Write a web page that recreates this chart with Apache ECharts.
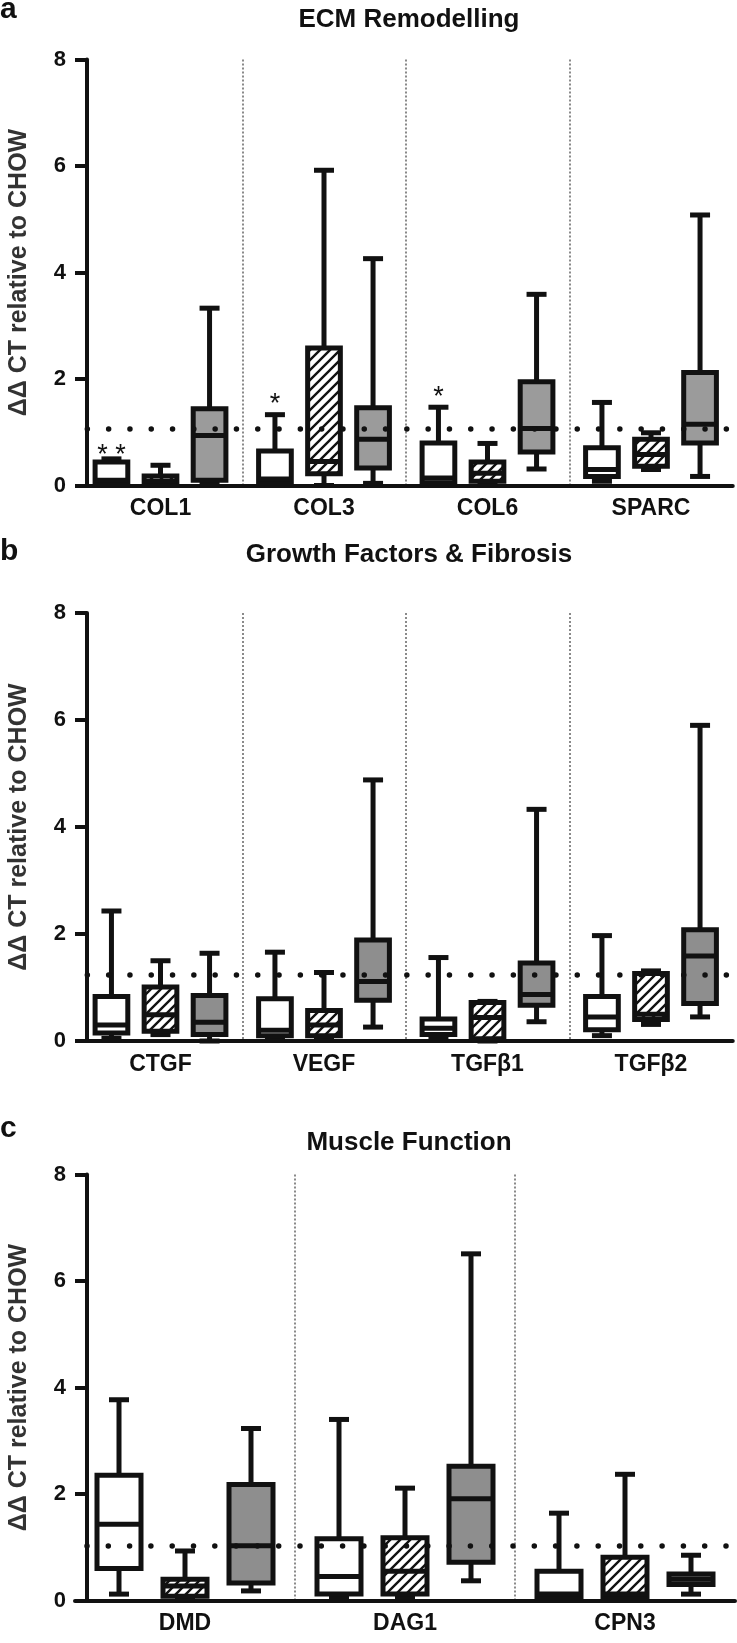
<!DOCTYPE html>
<html>
<head>
<meta charset="utf-8">
<script src="https://cdn.jsdelivr.net/npm/echarts@6/dist/echarts.min.js"></script>
<style>
html,body{margin:0;padding:0;background:#fff;}
#chart{width:737px;height:1643px;}
</style>
</head>
<body>
<div id="chart"></div>
<script>
// ---------------- DATA ----------------
const panelTitles = ['ECM Remodelling', 'Growth Factors & Fibrosis', 'Muscle Function'];
const panelLetters = ['a', 'b', 'c'];
const yAxisName = 'ΔΔ CT relative to CHOW';
const yMin = 0, yMax = 8, yStep = 2;

const categoriesA = ['COL1', 'COL3', 'COL6', 'SPARC'];
const categoriesB = ['CTGF', 'VEGF', 'TGFβ1', 'TGFβ2'];
const categoriesC = ['DMD', 'DAG1', 'CPN3'];

// reference (dotted) line value per panel
const refLineA = 1.07;
const refLineB = 1.23;
const refLineC = 1.03;

// box values: [min, Q1, median, Q3, max]
const whiteA = [[0, 0.03, 0.10, 0.44, 0.50], [0, 0.04, 0.12, 0.65, 1.33], [0, 0.05, 0.14, 0.80, 1.47], [0.08, 0.17, 0.30, 0.71, 1.56]];
const hatchA = [[0, 0.02, 0.08, 0.18, 0.38], [0, 0.22, 0.45, 2.58, 5.92], [0.03, 0.08, 0.23, 0.44, 0.79], [0.30, 0.36, 0.58, 0.87, 0.99]];
const grayA  = [[0.02, 0.10, 0.94, 1.44, 3.33], [0.04, 0.33, 0.87, 1.46, 4.26], [0.31, 0.63, 1.07, 1.95, 3.59], [0.17, 0.80, 1.15, 2.12, 5.08]];

const whiteB = [[0.05, 0.15, 0.30, 0.83, 2.43], [0.05, 0.10, 0.20, 0.79, 1.66], [0.06, 0.12, 0.24, 0.41, 1.56], [0.10, 0.21, 0.45, 0.83, 1.97]];
const hatchB = [[0.12, 0.18, 0.49, 1.01, 1.50], [0.05, 0.10, 0.30, 0.57, 1.28], [0, 0.04, 0.44, 0.72, 0.74], [0.31, 0.40, 0.50, 1.26, 1.31]];
const grayB  = [[0, 0.12, 0.35, 0.85, 1.64], [0.26, 0.76, 1.11, 1.89, 4.88], [0.36, 0.67, 0.87, 1.46, 4.33], [0.45, 0.70, 1.59, 2.08, 5.90]];

const whiteC = [[0.12, 0.60, 1.43, 2.35, 3.77], [0.05, 0.12, 0.45, 1.16, 3.40], [0, 0.05, 0.12, 0.55, 1.64]];
const hatchC = [[0.02, 0.08, 0.27, 0.40, 0.93], [0.07, 0.12, 0.55, 1.18, 2.11], [0, 0.05, 0.12, 0.81, 2.37]];
const grayC  = [[0.18, 0.33, 1.03, 2.18, 3.23], [0.37, 0.72, 1.91, 2.52, 6.51], [0.12, 0.30, 0.40, 0.50, 0.85]];

// significance marks (panel a, white group)
const starCategoriesA = ['COL1', 'COL3', 'COL6'];
const starValuesA = [0.67, 1.64, 1.76];
const starTextsA = ['* *', '*', '*'];

// ---------------- STYLE / LAYOUT ----------------
const FONT = "'Liberation Sans', Arial, Helvetica, sans-serif";
const INK = '#111';

// hatch pattern
const hatch = document.createElement('canvas');
hatch.width = 10; hatch.height = 10;
(function () {
  const c = hatch.getContext('2d');
  c.fillStyle = '#fff'; c.fillRect(0, 0, 10, 10);
  c.strokeStyle = '#111'; c.lineWidth = 2.4;
  c.beginPath();
  c.moveTo(-2, 12); c.lineTo(12, -2);
  c.moveTo(-7, 7); c.lineTo(7, -7);
  c.moveTo(3, 17); c.lineTo(17, 3);
  c.stroke();
})();
const hatchFill = { image: hatch, repeat: 'repeat' };

const panels = [
  { cats: categoriesA, ref: refLineA, groups: [whiteA, hatchA, grayA], gray: '#9b9b9b',
    grid: { left: 78.75, width: 654, top: 59.5, height: 426 }, yOffset: -8.25, dashOffset: 12.7,
    titleTop: 7, letterTop: -5 },
  { cats: categoriesB, ref: refLineB, groups: [whiteB, hatchB, grayB], gray: '#8e8e8e',
    grid: { left: 78.75, width: 654, top: 613, height: 428 }, yOffset: -8.25, dashOffset: 12.7,
    titleTop: 542, letterTop: 537 },
  { cats: categoriesC, ref: refLineC, groups: [whiteC, hatchC, grayC], gray: '#8e8e8e',
    grid: { left: 75, width: 660, top: 1174.5, height: 426 }, yOffset: -12, dashOffset: 9.3,
    titleTop: 1130, letterTop: 1114 }
];

function boxRenderer(groupIdx, fill) {
  return function (params, api) {
    const cat = api.value(0);
    const bw = api.size([1, 0])[0];
    const cx = api.coord([cat, 0])[0] + (groupIdx - 1) * 0.3 * bw;
    const half = 0.1 * bw;
    const capHalf = 10;
    const y = (k) => api.coord([cat, api.value(k)])[1];
    const yMn = y(1), yQ1 = y(2), yMd = y(3), yQ3 = y(4), yMx = y(5);
    const ls = { stroke: INK, lineWidth: 5 };
    return {
      type: 'group',
      children: [
        { type: 'line', shape: { x1: cx, y1: yMx, x2: cx, y2: yQ3 }, style: ls },
        { type: 'line', shape: { x1: cx, y1: yQ1, x2: cx, y2: yMn }, style: ls },
        { type: 'line', shape: { x1: cx - capHalf, y1: yMx, x2: cx + capHalf, y2: yMx }, style: ls },
        { type: 'line', shape: { x1: cx - capHalf, y1: yMn, x2: cx + capHalf, y2: yMn }, style: ls },
        { type: 'rect', shape: { x: cx - half, y: yQ3, width: 2 * half, height: yQ1 - yQ3 },
          style: { fill: fill, stroke: INK, lineWidth: 5 } },
        { type: 'line', shape: { x1: cx - half, y1: yMd, x2: cx + half, y2: yMd }, style: ls }
      ]
    };
  };
}

function starRenderer(texts) {
  return function (params, api) {
    const cat = api.value(0);
    const bw = api.size([1, 0])[0];
    const p = api.coord([cat, api.value(1)]);
    return {
      type: 'text',
      x: p[0] - 0.3 * bw,
      y: p[1] + 6,
      style: { text: texts[params.dataIndex], fill: INK, font: '27px ' + FONT,
               textAlign: 'center', textVerticalAlign: 'middle' }
    };
  };
}

const option = {
  animation: false,
  backgroundColor: '#fff',
  textStyle: { fontFamily: FONT },
  title: [],
  grid: [],
  xAxis: [],
  yAxis: [],
  series: []
};

panels.forEach((p, i) => {
  option.title.push({
    text: panelTitles[i], left: 409, top: p.titleTop, textAlign: 'center', padding: 0,
    textStyle: { fontFamily: FONT, fontSize: 26, fontWeight: 'bold', color: INK }
  });
  option.title.push({
    text: panelLetters[i], left: 0, top: p.letterTop, padding: 0,
    textStyle: { fontFamily: FONT, fontSize: 30, fontWeight: 'bold', color: INK }
  });
  option.grid.push(Object.assign({ outerBoundsMode: 'none', containLabel: false }, p.grid));
  option.xAxis.push({
    type: 'category', gridIndex: i, data: p.cats, boundaryGap: true,
    axisLine: { show: true, lineStyle: { color: INK, width: 4 } },
    axisTick: { show: false },
    axisLabel: { interval: 0, color: INK, fontFamily: FONT, fontSize: 23, fontWeight: 'bold', margin: 12 },
    splitLine: { show: true, interval: 0, showMinLine: false, showMaxLine: false,
                 lineStyle: { color: '#8a8a8a', width: 2, type: [2, 2] } }
  });
  option.yAxis.push({
    type: 'value', gridIndex: i, min: yMin, max: yMax, interval: yStep, offset: p.yOffset,
    axisLine: { show: true, lineStyle: { color: INK, width: 4 } },
    axisTick: { show: true, length: 12, lineStyle: { color: INK, width: 4 } },
    axisLabel: { color: INK, fontFamily: FONT, fontSize: 22, fontWeight: 'bold', margin: 21 },
    splitLine: { show: false },
    name: yAxisName, nameLocation: 'middle', nameGap: 55,
    nameTextStyle: { color: '#333', fontFamily: FONT, fontSize: 25, fontWeight: 'bold' }
  });
  const fills = ['#fff', hatchFill, p.gray];
  p.groups.forEach((g, gi) => {
    option.series.push({
      type: 'custom', xAxisIndex: i, yAxisIndex: i, z: 2, clip: false,
      renderItem: boxRenderer(gi, fills[gi]),
      encode: { x: 0, y: [1, 2, 3, 4, 5] },
      data: g.map((d, k) => [k].concat(d))
    });
  });
  option.series.push({
    type: 'line', xAxisIndex: i, yAxisIndex: i, data: [], z: 5,
    markLine: {
      silent: true, symbol: ['none', 'none'], label: { show: false }, z: 5,
      lineStyle: { color: INK, width: 5.5, type: [0, 21.3], cap: 'round', dashOffset: p.dashOffset },
      emphasis: { disabled: true },
      data: [{ yAxis: p.ref }]
    }
  });
});

// stars on panel a
option.series.push({
  type: 'custom', xAxisIndex: 0, yAxisIndex: 0, z: 6, clip: false,
  renderItem: starRenderer(starTextsA),
  encode: { x: 0, y: 1 },
  data: starCategoriesA.map((c, k) => [categoriesA.indexOf(c), starValuesA[k]])
});

const chart = echarts.init(document.getElementById('chart'), null, { renderer: 'canvas' });
chart.setOption(option);
</script>
</body>
</html>
